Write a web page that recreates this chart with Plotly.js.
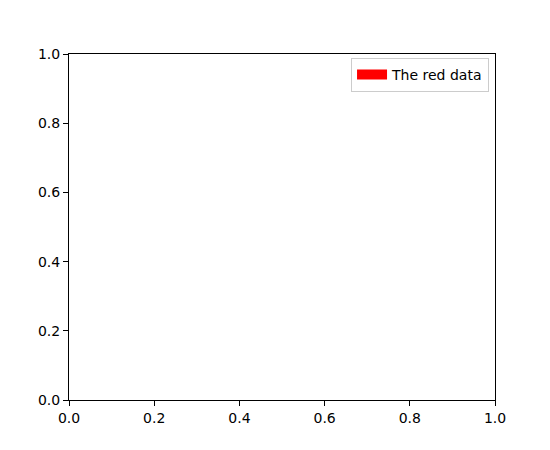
<!DOCTYPE html>
<html>
<head>
<meta charset="utf-8">
<script src="https://cdn.plot.ly/plotly-3.0.1.min.js"></script>
<style>
  html, body { margin: 0; padding: 0; background: #fff; }
  #chart { width: 550px; height: 450px; }
</style>
</head>
<body>
<div id="chart"></div>
<script>
// the axes hold no data, only a legend entry for the red patch
const seriesNames = ['The red data'];
const seriesColors = ['red'];
const seriesX = [[null]];
const seriesY = [[null]];
const tickVals = [0, 0.2, 0.4, 0.6, 0.8, 1.0];

const traces = seriesNames.map((name, i) => ({
  x: seriesX[i],
  y: seriesY[i],
  name: name,
  type: 'scatter',
  mode: 'lines',
  line: { color: seriesColors[i], width: 10 },
  showlegend: true
}));

const axis = {
  range: [0, 1],
  tickvals: tickVals,
  tickformat: '.1f',
  showgrid: false,
  zeroline: false,
  showline: true,
  mirror: true,
  linecolor: 'black',
  linewidth: 1,
  ticks: 'outside',
  ticklen: 5,
  tickcolor: 'black',
  fixedrange: true
};

const layout = {
  width: 550,
  height: 450,
  margin: { l: 69, r: 55, t: 54, b: 50 },
  paper_bgcolor: 'white',
  plot_bgcolor: 'white',
  font: { family: 'DejaVu Sans', size: 14, color: 'black' },
  xaxis: axis,
  yaxis: Object.assign({}, axis),
  showlegend: true,
  legend: {
    x: 0.986, y: 0.989,
    xanchor: 'right', yanchor: 'top',
    bgcolor: 'white',
    bordercolor: '#cccccc',
    borderwidth: 1,
    font: { family: 'DejaVu Sans', size: 14 },
    itemwidth: 30
  }
};

Plotly.newPlot('chart', traces, layout, { displayModeBar: false, staticPlot: true });
</script>
</body>
</html>
